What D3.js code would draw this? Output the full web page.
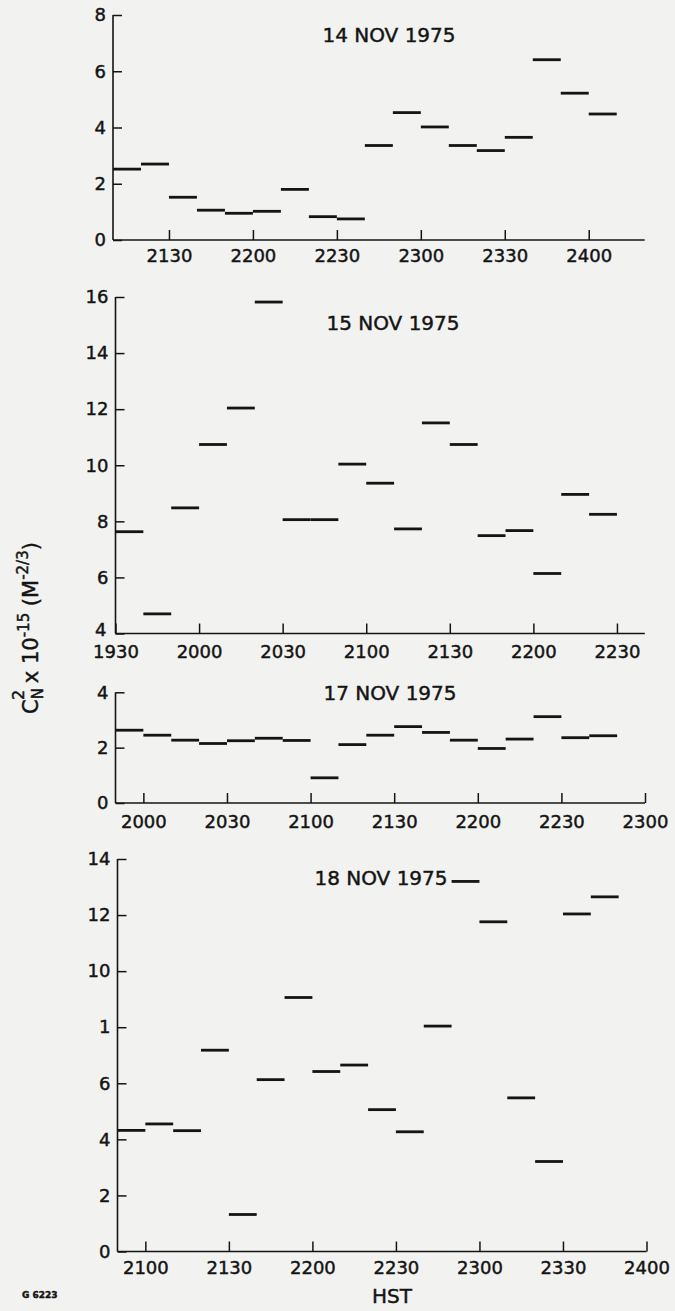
<!DOCTYPE html>
<html><head><meta charset="utf-8">
<script src="https://cdn.jsdelivr.net/npm/d3@7"></script>
<style>
html,body{margin:0;padding:0;background:#f2f2f0;}
svg{display:block;}
text{font-family:"DejaVu Sans",sans-serif;fill:#141414;stroke:#141414;stroke-width:0.45px;}
</style></head><body>
<svg id="chart" width="675" height="1311"></svg>
<script>
// ---------- data (HST start of each 10-minute averaging interval, Cn2 x 1e-15) ----------
const nov14Start = ["2110","2120","2130","2140","2150","2200","2210","2220","2230","2240","2250","2300","2310","2320","2330","2340","2350","2400"];
const nov14Value = [2.52,2.70,1.52,1.06,0.95,1.02,1.80,0.83,0.75,3.36,4.53,4.02,3.36,3.18,3.65,6.41,5.22,4.48];
const nov14XTicks = ["2130","2200","2230","2300","2330","2400"];
const nov14YTicks = [0,2,4,6,8];

const nov15Start = ["1930","1940","1950","2000","2010","2020","2030","2040","2050","2100","2110","2120","2130","2140","2150","2200","2210","2220"];
const nov15Value = [7.63,4.70,8.48,10.74,12.04,15.82,8.06,8.06,10.04,9.36,7.73,11.51,10.74,7.49,7.67,6.14,8.96,8.25];
const nov15XTicks = ["1930","2000","2030","2100","2130","2200","2230"];
const nov15YTicks = [4,6,8,10,12,14,16];

const nov17Start = ["1950","2000","2010","2020","2030","2040","2050","2100","2110","2120","2130","2140","2150","2200","2210","2220","2230","2240"];
const nov17Value = [2.63,2.45,2.27,2.15,2.25,2.34,2.26,0.91,2.11,2.45,2.76,2.55,2.27,1.97,2.31,3.12,2.36,2.43];
const nov17XTicks = ["2000","2030","2100","2130","2200","2230","2300"];
const nov17YTicks = [0,2,4];

const nov18Start = ["2050","2100","2110","2120","2130","2140","2150","2200","2210","2220","2230","2240","2250","2300","2310","2320","2330","2340"];
const nov18Value = [4.32,4.55,4.31,7.18,1.32,6.13,9.06,6.42,6.65,5.06,4.27,8.04,13.2,11.76,5.48,3.21,12.04,12.65];
const nov18XTicks = ["2100","2130","2200","2230","2300","2330","2400"];
const nov18YTicks = [0,2,4,6,8,10,12,14];
const nov18YTickLabels = ["0","2","4","6","1","10","12","14"];

const intervalMinutes = 10;

// ---------- layout ----------
const toMin = t => Math.floor(+t / 100) * 60 + (+t % 100);

const panels = [
  {title:"14 NOV 1975", start:nov14Start, value:nov14Value, xDom:["2110","2420"], xTicks:nov14XTicks,
   yDom:[0,8], yTicks:nov14YTicks, yLabels:null,
   xr:[113,644.7], yr:[240,15], titleXY:[389,35], pad:9.5, liftMin:0},
  {title:"15 NOV 1975", start:nov15Start, value:nov15Value, xDom:["1930","2240"], xTicks:nov15XTicks,
   yDom:[4,16], yTicks:nov15YTicks, yLabels:null,
   xr:[115.5,644.8], yr:[633.5,297], titleXY:[393,323], pad:11.5, liftMin:4},
  {title:"17 NOV 1975", start:nov17Start, value:nov17Value, xDom:["1950","2300"], xTicks:nov17XTicks,
   yDom:[0,4], yTicks:nov17YTicks, yLabels:null,
   xr:[115.5,645], yr:[803,692.3], titleXY:[390,693], pad:12, liftMin:0},
  {title:"18 NOV 1975", start:nov18Start, value:nov18Value, xDom:["2050","2400"], xTicks:nov18XTicks,
   yDom:[0,14], yTicks:nov18YTicks, yLabels:nov18YTickLabels,
   xr:[117.5,646.5], yr:[1251.5,859], titleXY:[381,878], pad:9.5, liftMin:0}
];

const svg = d3.select("#chart");
const ink = "#141414";

panels.forEach(p => {
  const x = d3.scaleLinear().domain(p.xDom.map(toMin)).range(p.xr);
  const y = d3.scaleLinear().domain(p.yDom).range(p.yr);
  const g = svg.append("g");

  // axes lines
  g.append("line").attr("x1", p.xr[0]).attr("x2", p.xr[0]).attr("y1", p.yr[1]).attr("y2", p.yr[0])
    .attr("stroke", ink).attr("stroke-width", 1.6);
  g.append("line").attr("x1", p.xr[0]).attr("x2", p.xr[1]).attr("y1", p.yr[0]).attr("y2", p.yr[0])
    .attr("stroke", ink).attr("stroke-width", 1.6);

  // y axis ticks (inward)
  const ya = d3.axisLeft(y).tickValues(p.yTicks).tickSize(-9).tickSizeOuter(0).tickPadding(7)
    .tickFormat((d, i) => p.yLabels ? p.yLabels[i] : String(d));
  const yg = g.append("g").attr("transform", `translate(${p.xr[0]},0)`).call(ya);
  yg.select(".domain").remove();
  yg.selectAll(".tick line").attr("stroke", ink).attr("stroke-width", 1.5);
  yg.selectAll(".tick text").attr("font-size", 18).attr("fill", ink)
    .style("font-family", '"DejaVu Sans", sans-serif');
  // the lowest label of a panel whose x axis starts off zero sits a little higher
  yg.selectAll(".tick text").filter((d, i) => i === 0 && p.liftMin)
    .attr("y", -p.liftMin).attr("x", -9);

  // x axis ticks (inward)
  const xa = d3.axisBottom(x).tickValues(p.xTicks.map(toMin)).tickSize(-10).tickSizeOuter(0)
    .tickPadding(p.pad).tickFormat((d, i) => p.xTicks[i]);
  const xg = g.append("g").attr("transform", `translate(0,${p.yr[0]})`).call(xa);
  xg.select(".domain").remove();
  xg.selectAll(".tick line").attr("stroke", ink).attr("stroke-width", 1.5);
  xg.selectAll(".tick text").attr("font-size", 18).attr("fill", ink)
    .style("font-family", '"DejaVu Sans", sans-serif');

  // title
  g.append("text").attr("x", p.titleXY[0]).attr("y", p.titleXY[1]).attr("dy", "0.36em")
    .attr("text-anchor", "middle").attr("font-size", 20).text(p.title);

  // interval bars
  g.selectAll("line.seg").data(p.start.map((s, i) => ({s: toMin(s), v: p.value[i]})))
    .enter().append("line").attr("class", "seg")
    .attr("x1", d => x(d.s)).attr("x2", d => x(d.s + intervalMinutes))
    .attr("y1", d => y(d.v)).attr("y2", d => y(d.v))
    .attr("stroke", ink).attr("stroke-width", 2.8);
});

// y axis title
const yt = svg.append("text").attr("transform", "translate(38,628) rotate(-90)")
  .attr("text-anchor", "middle").attr("font-size", 21);
yt.append("tspan").text("C");
yt.append("tspan").attr("font-size", 15).attr("dy", 5).text("N");
yt.append("tspan").attr("font-size", 16).attr("dx", -12).attr("dy", -19).text("2");
yt.append("tspan").attr("dy", 14).text(" x 10");
yt.append("tspan").attr("font-size", 15).attr("dy", -9).text("-15");
yt.append("tspan").attr("dy", 9).text(" (M");
yt.append("tspan").attr("font-size", 15).attr("dy", -10).text("-2/3");
yt.append("tspan").attr("dy", 10).text(")");

// x axis title
svg.append("text").attr("x", 392).attr("y", 1296).attr("dy", "0.36em").attr("text-anchor", "middle")
  .attr("font-size", 20).text("HST");

// figure number
svg.append("text").attr("x", 22).attr("y", 1298).attr("font-size", 9).attr("font-weight", "bold")
  .text("G 6223");
</script>
</body></html>
